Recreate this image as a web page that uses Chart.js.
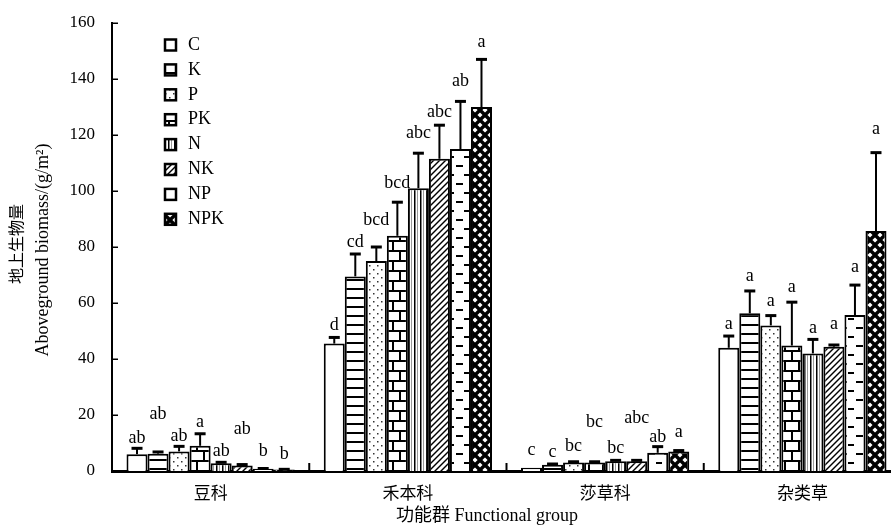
<!DOCTYPE html>
<html>
<head>
<meta charset="utf-8">
<script src="https://cdn.jsdelivr.net/npm/chart.js@4/dist/chart.umd.min.js"></script>
<style>
  html, body { margin: 0; padding: 0; background: #fff; overflow: hidden; }
  #wrap { width: 891px; height: 527px; overflow: hidden; position: relative; }
  #wrap canvas { display: block; }
</style>
</head>
<body>
<div id="wrap"><canvas id="c" width="901" height="527"></canvas></div>
<script>
// Functional groups on the x axis and fertilisation treatments
const groups = ['豆科', '禾本科', '莎草科', '杂类草'];
const treatments = ['C', 'K', 'P', 'PK', 'N', 'NK', 'NP', 'NPK'];

// Mean aboveground biomass (g/m²) per treatment, one value per functional group
const meanC   = [6.0,  45.5, 1.2, 44.0];
const meanK   = [6.2,  69.5, 2.2, 56.3];
const meanP   = [7.0,  75.0, 3.0, 52.0];
const meanPK  = [9.0,  84.0, 3.0, 44.8];
const meanN   = [2.8, 101.0, 3.5, 42.0];
const meanNK  = [2.0, 111.5, 3.5, 44.4];
const meanNP  = [0.8, 115.0, 6.5, 55.7];
const meanNPK = [0.5, 130.0, 7.0, 85.7];

// Standard errors (upper whisker only)
const seC   = [2.1,  2.2, 0.0,  4.2];
const seK   = [0.6,  8.0, 0.3,  8.0];
const seP   = [1.8,  5.0, 0.3,  3.5];
const sePK  = [4.3, 12.0, 0.3, 15.5];
const seN   = [0.3, 12.5, 0.3,  5.0];
const seNK  = [0.3, 12.0, 0.3,  0.6];
const seNP  = [0.1, 17.0, 2.2, 10.7];
const seNPK = [0.1, 17.0, 0.3, 28.0];

// Significance letters
const sigC   = ['ab', 'd',   'c',   'a'];
const sigK   = ['ab', 'cd',  'c',   'a'];
const sigP   = ['ab', 'bcd', 'bc',  'a'];
const sigPK  = ['a',  'bcd', 'bc',  'a'];
const sigN   = ['ab', 'abc', 'bc',  'a'];
const sigNK  = ['ab', 'abc', 'abc', 'a'];
const sigNP  = ['b',  'ab',  'ab',  'a'];
const sigNPK = ['b',  'a',   'a',   'a'];

// Y axis ticks
const yTicks = [0, 20, 40, 60, 80, 100, 120, 140, 160];

// Tables assembled from the lists above
const means   = [meanC, meanK, meanP, meanPK, meanN, meanNK, meanNP, meanNPK];
const errors  = [seC, seK, seP, sePK, seN, seNK, seNP, seNPK];
const letters = [sigC, sigK, sigP, sigPK, sigN, sigNK, sigNP, sigNPK];

// Vertical gap (px) between whisker top and letter centre
const letterGap = [
  [10, 12, 17, 12],
  [38, 12, 12, 15],
  [10, 27, 15, 14],
  [11, 19, 39, 15],
  [11, 20, 12, 11],
  [35, 13, 42, 21],
  [17, 20, 9, 18],
  [15, 17, 18, 23]
];

const SERIF = '"Liberation Serif", "Times New Roman", "Noto Sans CJK SC", serif';
const canvas = document.getElementById('c');
const ctx0 = canvas.getContext('2d');

// ---- monochrome fill patterns ----
function tile(w, h, draw) {
  const c = document.createElement('canvas');
  c.width = w; c.height = h;
  const g = c.getContext('2d');
  g.fillStyle = '#fff'; g.fillRect(0, 0, w, h);
  g.fillStyle = '#000'; g.strokeStyle = '#000';
  draw(g, w, h);
  return ctx0.createPattern(c, 'repeat');
}
const fills = [
  '#ffffff',
  // horizontal lines
  tile(4, 9, g => { g.fillRect(0, 0, 4, 2); }),
  // sparse dots
  tile(8, 8, g => { g.fillStyle = '#333'; g.fillRect(1, 1, 1.5, 1.5); g.fillRect(5, 5, 1.5, 1.5); }),
  // brick
  tile(14, 20, g => {
    g.fillRect(0, 0, 14, 2); g.fillRect(0, 10, 14, 2);
    g.fillRect(0, 0, 2, 10); g.fillRect(7, 10, 2, 10);
  }),
  // vertical lines
  tile(6, 4, g => { g.fillRect(0, 0, 1.5, 4); g.fillStyle = '#999'; g.fillRect(3, 0, 1, 4); }),
  // wide upward diagonal
  tile(6, 6, g => {
    g.lineWidth = 1.4;
    for (let k = -1; k <= 1; k++) { g.beginPath(); g.moveTo(k * 6 - 1, 7); g.lineTo(k * 6 + 7, -1); g.stroke(); }
  }),
  // dashed horizontal
  tile(16, 18, g => { g.fillRect(8, 3, 7, 2); g.fillRect(0, 12, 6, 2); }),
  // diamond lattice
  tile(10, 10, g => {
    g.lineWidth = 3.4;
    for (let k = -1; k <= 1; k++) {
      g.beginPath(); g.moveTo(-2, -2 + k * 10); g.lineTo(12, 12 + k * 10); g.stroke();
      g.beginPath(); g.moveTo(-2, 12 + k * 10); g.lineTo(12, -2 + k * 10); g.stroke();
    }
  })
];

// ---- whiskers and letters ----
const whiskers = {
  id: 'whiskers',
  afterDatasetsDraw(chart) {
    const { ctx, scales: { y } } = chart;
    ctx.save();
    ctx.strokeStyle = '#000';
    ctx.fillStyle = '#000';
    ctx.font = '18px ' + SERIF;
    ctx.textAlign = 'center';
    ctx.textBaseline = 'middle';
    chart.data.datasets.forEach((ds, i) => {
      chart.getDatasetMeta(i).data.forEach((bar, j) => {
        const v = ds.data[j], e = errors[i][j];
        const top = y.getPixelForValue(v + e);
        if (e > 0) {
          ctx.lineWidth = 2;
          ctx.beginPath(); ctx.moveTo(bar.x, bar.y); ctx.lineTo(bar.x, top); ctx.stroke();
          ctx.lineWidth = 3;
          ctx.beginPath(); ctx.moveTo(bar.x - 5.5, top); ctx.lineTo(bar.x + 5.5, top); ctx.stroke();
        }
        ctx.fillText(letters[i][j], bar.x, top - letterGap[i][j]);
      });
    });
    ctx.restore();
  }
};

// ---- inward ticks, axis titles and legend ----
const decor = {
  id: 'decor',
  afterDraw(chart) {
    const { ctx, chartArea: a, scales: { x, y } } = chart;
    ctx.save();
    ctx.strokeStyle = '#000';
    ctx.fillStyle = '#000';
    // y ticks pointing into the plot
    ctx.lineWidth = 1.5;
    yTicks.forEach(v => {
      const py = Math.round(y.getPixelForValue(v)) + 0.25;
      ctx.beginPath(); ctx.moveTo(a.left, py); ctx.lineTo(a.left + 6, py); ctx.stroke();
    });
    // x ticks between groups
    ctx.lineWidth = 2;
    for (let i = 0; i < groups.length - 1; i++) {
      const px = (x.getPixelForValue(i) + x.getPixelForValue(i + 1)) / 2;
      ctx.beginPath(); ctx.moveTo(px, a.bottom); ctx.lineTo(px, a.bottom - 8); ctx.stroke();
    }
    // y title (two lines, rotated)
    ctx.textAlign = 'center';
    ctx.textBaseline = 'middle';
    const cy = (a.top + a.bottom) / 2;
    ctx.save();
    ctx.translate(18, cy - 3); ctx.rotate(-Math.PI / 2);
    ctx.font = '16px ' + SERIF;
    ctx.fillText('地上生物量', 0, 0);
    ctx.restore();
    ctx.save();
    ctx.translate(43, cy + 3); ctx.rotate(-Math.PI / 2);
    ctx.font = '18px ' + SERIF;
    ctx.fillText('Aboveground biomass/(g/m²)', 0, 0);
    ctx.restore();
    // x title
    ctx.font = '18px ' + SERIF;
    ctx.fillText('功能群 Functional group', 487, 516);
    // legend
    ctx.textAlign = 'left';
    treatments.forEach((t, i) => {
      const cyL = 45 + i * 24.9;
      ctx.fillStyle = fills[i];
      ctx.fillRect(165, cyL - 5.5, 11, 11);
      ctx.lineWidth = 2.5;
      ctx.strokeRect(165, cyL - 5.5, 11, 11);
      ctx.fillStyle = '#000';
      ctx.font = '18px ' + SERIF;
      ctx.fillText(t, 188, cyL);
    });
    ctx.restore();
  }
};

new Chart(canvas, {
  type: 'bar',
  data: {
    labels: groups,
    datasets: treatments.map((t, i) => ({
      label: t,
      data: means[i],
      backgroundColor: fills[i],
      borderColor: '#000',
      borderWidth: 2,
      categoryPercentage: 0.853,
      barPercentage: 1.0
    }))
  },
  options: {
    responsive: false,
    animation: false,
    layout: { padding: { left: 0, right: 0, top: 23, bottom: 0 } },
    plugins: { legend: { display: false }, tooltip: { enabled: false } },
    scales: {
      x: {
        grid: { display: false, drawTicks: false },
        border: { display: true, color: '#000', width: 3 },
        ticks: { color: '#000', font: { family: SERIF, size: 17 }, padding: 13, maxRotation: 0 },
        afterFit(s) { s.height = 56; s.paddingLeft = 0; s.paddingRight = 0; }
      },
      y: {
        min: 0, max: 160,
        grid: { display: false, drawTicks: false },
        border: { display: true, color: '#000', width: 2 },
        ticks: { stepSize: 20, color: '#000', font: { family: SERIF, size: 17 }, padding: 17 },
        afterFit(s) { s.width = 112; s.paddingTop = 0; s.paddingBottom = 0; }
      }
    }
  },
  plugins: [whiskers, decor]
});
</script>
</body>
</html>
